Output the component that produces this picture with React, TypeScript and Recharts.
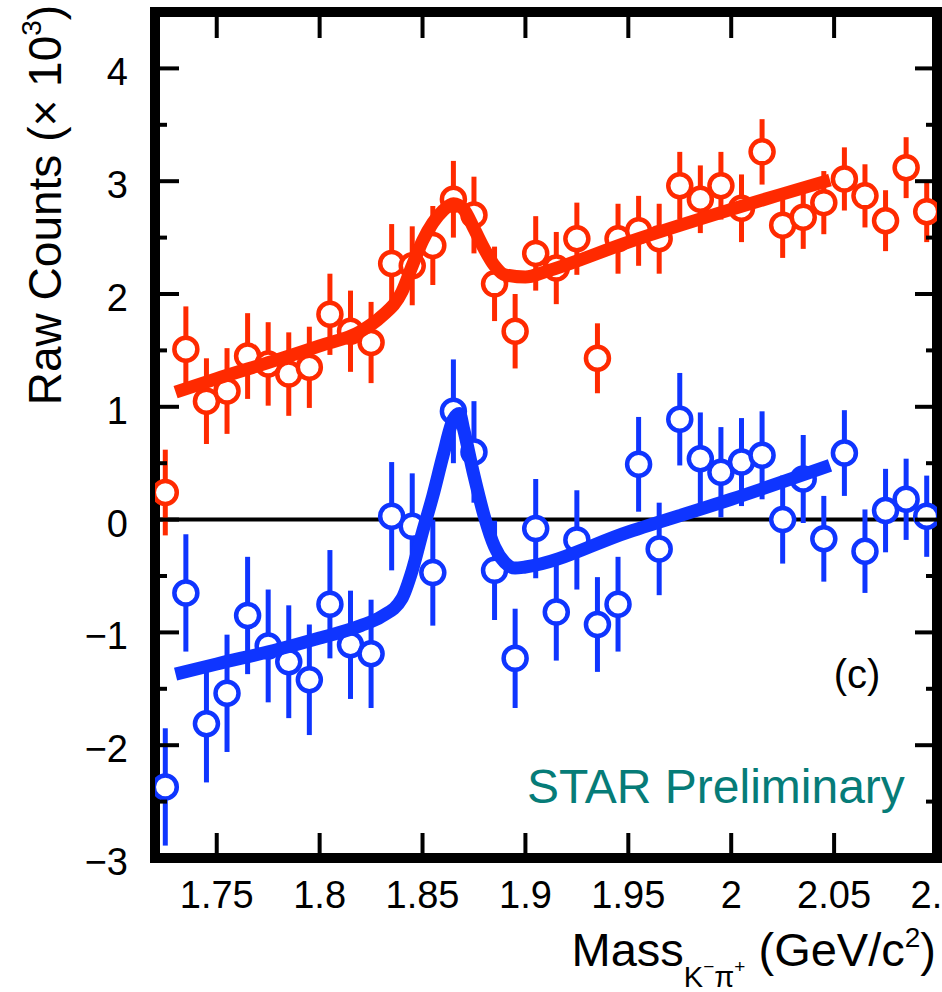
import {
  ComposedChart,
  Scatter,
  XAxis,
  YAxis,
  ErrorBar,
  ReferenceLine,
  ReferenceArea,
} from "recharts";

// bin centres (GeV/c^2)
const massBins = [
  1.725, 1.735, 1.745, 1.755, 1.765, 1.775, 1.785, 1.795, 1.805, 1.815,
  1.825, 1.835, 1.845, 1.855, 1.865, 1.875, 1.885, 1.895, 1.905, 1.915,
  1.925, 1.935, 1.945, 1.955, 1.965, 1.975, 1.985, 1.995, 2.005, 2.015,
  2.025, 2.035, 2.045, 2.055, 2.065, 2.075, 2.085, 2.095,
];

// red points (x 10^3)
const rawCounts = [
  0.24, 1.51, 1.05, 1.14, 1.45, 1.38, 1.29, 1.35, 1.82, 1.67,
  1.57, 2.27, 2.25, 2.43, 2.84, 2.7, 2.09, 1.67, 2.36, 2.23,
  2.49, 1.43, 2.49, 2.56, 2.49, 2.96, 2.84, 2.96, 2.76, 3.26,
  2.61, 2.68, 2.81, 3.02, 2.87, 2.65, 3.12, 2.73,
];
const rawErrors = [
  0.38, 0.38, 0.38, 0.38, 0.38, 0.37, 0.37, 0.36, 0.36, 0.36,
  0.36, 0.35, 0.35, 0.35, 0.34, 0.34, 0.33, 0.33, 0.33, 0.32,
  0.32, 0.31, 0.31, 0.31, 0.31, 0.3, 0.3, 0.3, 0.3, 0.29,
  0.29, 0.28, 0.28, 0.28, 0.28, 0.27, 0.27, 0.27,
];

// blue points (x 10^3)
const subtractedCounts = [
  -2.37, -0.65, -1.81, -1.54, -0.85, -1.12, -1.26, -1.42, -0.75, -1.11,
  -1.19, 0.03, -0.06, -0.47, 0.96, 0.6, -0.45, -1.23, -0.08, -0.82,
  -0.18, -0.93, -0.75, 0.49, -0.26, 0.89, 0.54, 0.42, 0.51, 0.57,
  0.0, 0.36, -0.17, 0.59, -0.28, 0.08, 0.18, 0.03,
];
const subtractedErrors = [
  0.52, 0.52, 0.52, 0.52, 0.52, 0.5, 0.5, 0.49, 0.48, 0.48,
  0.48, 0.48, 0.47, 0.47, 0.46, 0.45, 0.44, 0.44, 0.44, 0.43,
  0.44, 0.42, 0.42, 0.42, 0.41, 0.41, 0.41, 0.4, 0.39, 0.39,
  0.39, 0.39, 0.38, 0.38, 0.37, 0.37, 0.36, 0.36,
];

// fit curves
const rawFitMass = [
  1.73, 1.75, 1.78, 1.8, 1.82, 1.83, 1.84, 1.845, 1.85, 1.855, 1.86,
  1.865, 1.87, 1.875, 1.88, 1.885, 1.89, 1.9, 1.91, 1.95, 2.0, 2.048,
];
const rawFitCounts = [
  1.13, 1.25, 1.42, 1.54, 1.67, 1.8, 2.02, 2.25, 2.47, 2.63, 2.74,
  2.8, 2.75, 2.58, 2.4, 2.25, 2.17, 2.15, 2.2, 2.46, 2.75, 3.01,
];
const subFitMass = [
  1.73, 1.75, 1.78, 1.8, 1.82, 1.83, 1.84, 1.845, 1.85, 1.855, 1.86, 1.865,
  1.868, 1.87, 1.875, 1.88, 1.885, 1.89, 1.895, 1.9, 1.95, 2.0, 2.048,
];
const subFitCounts = [
  -1.37, -1.28, -1.15, -1.05, -0.94, -0.86, -0.7, -0.45, -0.11, 0.21, 0.57, 0.89,
  0.94, 0.8, 0.39, 0.03, -0.24, -0.38, -0.43, -0.42, -0.11, 0.18, 0.48,
];

const massTicks = [1.75, 1.8, 1.85, 1.9, 1.95, 2, 2.05, 2.1];
const countTicks = [-3, -2.5, -2, -1.5, -1, -0.5, 0, 0.5, 1, 1.5, 2, 2.5, 3, 3.5, 4, 4.5];

const RED = "#ff2a00";
const BLUE = "#0f35ff";
const TEAL = "#067c78";
const FONT = "'Liberation Sans', Arial, Helvetica, sans-serif";

const rawPoints = massBins.map((x, i) => ({ x, y: rawCounts[i], err: rawErrors[i] }));
const subPoints = massBins.map((x, i) => ({ x, y: subtractedCounts[i], err: subtractedErrors[i] }));
const rawFit = rawFitMass.map((x, i) => ({ x, y: rawFitCounts[i] }));
const subFit = subFitMass.map((x, i) => ({ x, y: subFitCounts[i] }));

const fmtMass = (v: number) => String(Number(v.toFixed(2)));
const fmtCount = (v: number) => (v < 0 ? "\u2212" + Math.abs(v) : String(v));

const BottomTick = ({ x, y, payload }: any) => (
  <g>
    <line x1={x} x2={x} y1={y} y2={y - 25} stroke="#000" strokeWidth={4} />
    <text x={x} y={y + 50} textAnchor="middle" fontSize={38} fontFamily={FONT} fill="#000">
      {fmtMass(payload.value)}
    </text>
  </g>
);

const TopTick = ({ x, y }: any) => (
  <line x1={x} x2={x} y1={y} y2={y + 26} stroke="#000" strokeWidth={4} />
);

const LeftTick = ({ x, y, payload }: any) => {
  const major = Number.isInteger(payload.value);
  return (
    <g>
      <line x1={x} x2={x + (major ? 24 : 12)} y1={y} y2={y} stroke="#000" strokeWidth={4} />
      {major && (
        <text x={x - 27} y={y + 17} textAnchor="end" fontSize={38} fontFamily={FONT} fill="#000">
          {fmtCount(payload.value)}
        </text>
      )}
    </g>
  );
};

const RightTick = ({ x, y, payload }: any) => {
  const major = Number.isInteger(payload.value);
  return <line x1={x} x2={x - (major ? 22 : 11)} y1={y} y2={y} stroke="#000" strokeWidth={4} />;
};

const ringShape = (color: string) => (p: any) =>
  <circle cx={p.cx} cy={p.cy} r={11.5} fill="#fff" stroke={color} strokeWidth={4.5} />;

const noShape = () => <g />;

const fitLine = (color: string) => ({
  stroke: color,
  strokeWidth: 13,
  strokeLinecap: "butt" as const,
  strokeLinejoin: "round" as const,
  fill: "none",
});

export default function App() {
  return (
    <div
      style={{
        position: "absolute",
        left: 0,
        top: 0,
        width: 942,
        height: 992,
        overflow: "hidden",
        background: "#fff",
      }}
    >
      <ComposedChart width={942} height={992} margin={{ top: 0, right: 0, bottom: 0, left: 0 }}>
        <XAxis
          dataKey="x"
          type="number"
          domain={[1.72, 2.1]}
          allowDataOverflow
          ticks={massTicks}
          interval={0}
          height={134}
          tickSize={0}
          tickMargin={0}
          axisLine={false}
          tickLine={false}
          tick={<BottomTick />}
        />
        <XAxis
          xAxisId="top"
          orientation="top"
          dataKey="x"
          type="number"
          domain={[1.72, 2.1]}
          allowDataOverflow
          ticks={massTicks}
          interval={0}
          height={12}
          tickSize={0}
          tickMargin={0}
          axisLine={false}
          tickLine={false}
          tick={<TopTick />}
        />
        <YAxis
          type="number"
          domain={[-3, 4.5]}
          allowDataOverflow
          ticks={countTicks}
          interval={0}
          width={155}
          tickSize={0}
          tickMargin={0}
          axisLine={false}
          tickLine={false}
          tick={<LeftTick />}
        />
        <YAxis
          yAxisId="right"
          orientation="right"
          type="number"
          domain={[-3, 4.5]}
          allowDataOverflow
          ticks={countTicks}
          interval={0}
          width={5}
          tickSize={0}
          tickMargin={0}
          axisLine={false}
          tickLine={false}
          tick={<RightTick />}
        />
        <ReferenceArea
          x1={1.72}
          x2={2.1}
          y1={-3}
          y2={4.5}
          fill="none"
          fillOpacity={0}
          stroke="#000"
          strokeWidth={10}
          ifOverflow="visible"
        />
        <ReferenceLine y={0} stroke="#000" strokeWidth={4} />
        <Scatter data={rawPoints} dataKey="y" shape={ringShape(RED)} isAnimationActive={false}>
          <ErrorBar dataKey="err" direction="y" width={0} stroke={RED} strokeWidth={5} />
        </Scatter>
        <Scatter data={subPoints} dataKey="y" shape={ringShape(BLUE)} isAnimationActive={false}>
          <ErrorBar dataKey="err" direction="y" width={0} stroke={BLUE} strokeWidth={5} />
        </Scatter>
        <Scatter
          data={rawFit}
          dataKey="y"
          fill={RED}
          line={fitLine(RED)}
          lineJointType="monotoneX"
          shape={noShape}
          isAnimationActive={false}
        />
        <Scatter
          data={subFit}
          dataKey="y"
          fill={BLUE}
          line={fitLine(BLUE)}
          lineJointType="monotoneX"
          shape={noShape}
          isAnimationActive={false}
        />
      </ComposedChart>
      <svg
        width={942}
        height={992}
        style={{ position: "absolute", left: 0, top: 0, pointerEvents: "none" }}
        fontFamily={FONT}
      >
        <text
          x={61}
          y={205}
          transform="rotate(-90 61 205)"
          textAnchor="middle"
          fontSize={46}
          fill="#000"
        >
          Raw Counts (× 10
          <tspan fontSize={28} dy={-20}>3</tspan>
          <tspan dy={20}>)</tspan>
        </text>
        <text x={936} y={966} textAnchor="end" fontSize={47} fill="#000">
          Mass
          <tspan fontSize={29} dy={21}>K</tspan>
          <tspan fontSize={19} dy={-14}>−</tspan>
          <tspan fontSize={29} dy={14}>π</tspan>
          <tspan fontSize={19} dy={-14}>+</tspan>
          <tspan dy={-7}> (GeV/c</tspan>
          <tspan fontSize={28} dy={-19}>2</tspan>
          <tspan dy={19}>)</tspan>
        </text>
        <text x={857} y={688} textAnchor="middle" fontSize={40} fill="#000">
          (c)
        </text>
        <text x={527} y={803} fontSize={48} fill={TEAL}>
          STAR Preliminary
        </text>
      </svg>
    </div>
  );
}
